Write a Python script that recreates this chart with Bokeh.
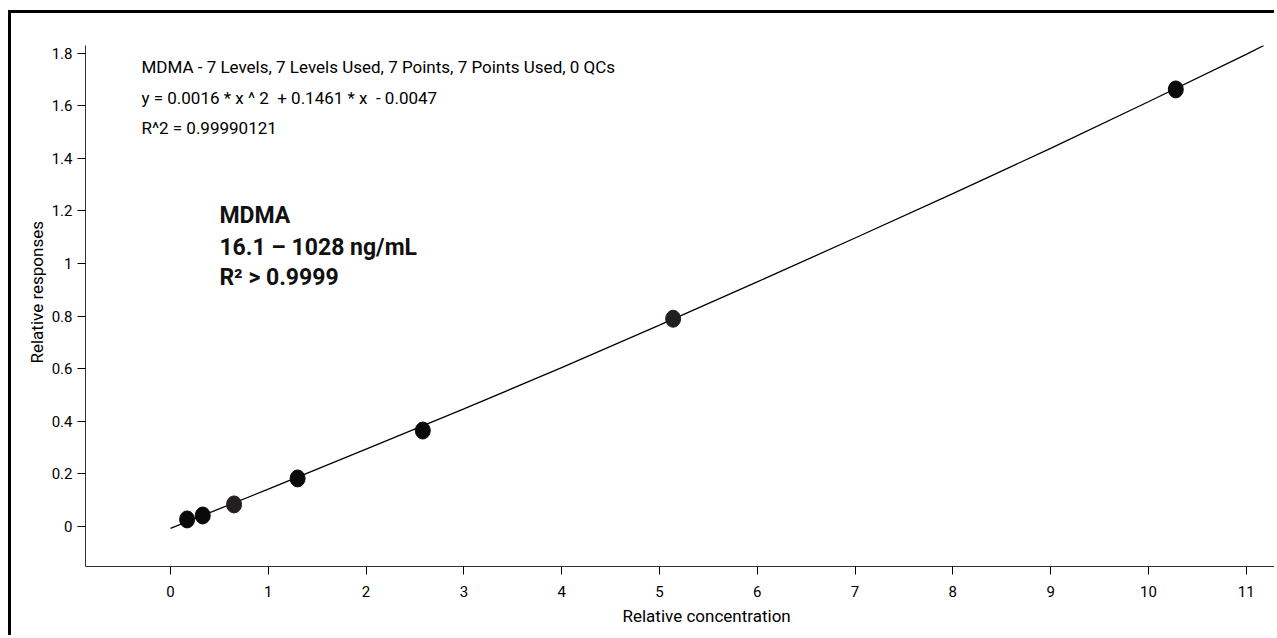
from bokeh.plotting import figure
from bokeh.models import Range1d, FixedTicker, Label, Title
from bokeh.embed import file_html
from bokeh.resources import INLINE

# calibration points (relative concentration, relative response)
conc = [0.17, 0.33, 0.65, 1.30, 2.58, 5.14, 10.28]
resp = [0.027, 0.042, 0.084, 0.183, 0.365, 0.790, 1.662]
point_colors = ["#0a0a0a", "#0a0a0a", "#231f20", "#0a0a0a", "#0a0a0a", "#231f20", "#0a0a0a"]

# fitted curve
curve_x = [0.0, 1.0, 2.0, 3.0, 4.0, 5.0, 6.0, 7.0, 8.0, 9.0, 10.0, 11.0, 11.18]
curve_y = [-0.007, 0.142, 0.294, 0.447, 0.604, 0.766, 0.930, 1.097, 1.266, 1.438, 1.615, 1.795, 1.829]

x_ticks = list(range(0, 12))
x_tick_labels = [str(t) for t in x_ticks]
y_ticks = [0, 0.2, 0.4, 0.6, 0.8, 1.0, 1.2, 1.4, 1.6, 1.8]
y_tick_labels = ["0", "0.2", "0.4", "0.6", "0.8", "1", "1.2", "1.4", "1.6", "1.8"]

info_lines = [
    "MDMA - 7 Levels, 7 Levels Used, 7 Points, 7 Points Used, 0 QCs",
    "y = 0.0016 * x ^ 2\u00a0 + 0.1461 * x\u00a0 - 0.0047",
    "R^2 = 0.99990121",
]
bold_lines = ["MDMA", "16.1 \u2013 1028 ng/mL", "R\u00b2 > 0.9999"]
x_title = "Relative concentration"
y_title = "Relative responses"

FONT = "Roboto"

p = figure(width=1266, height=625, output_backend="svg", toolbar_location=None,
           x_range=Range1d(-0.869, 11.32), y_range=Range1d(-0.152, 1.829),
           min_border_left=74, min_border_top=32, min_border_right=0, min_border_bottom=72)
p.styles = {"margin-left": "8px", "margin-top": "10px",
            "border-left": "3px solid black", "border-top": "3px solid black"}
p.outline_line_color = None
p.xgrid.visible = False
p.ygrid.visible = False
p.background_fill_color = "white"
p.border_fill_color = "white"

p.line(curve_x, curve_y, line_color="black", line_width=1.3)
p.ellipse(conc, resp, width=15, height=17, width_units="screen", height_units="screen",
          fill_color=point_colors, line_color=point_colors)

p.xaxis.ticker = FixedTicker(ticks=x_ticks)
p.xaxis.major_label_overrides = dict(zip(x_ticks, x_tick_labels))
p.yaxis.ticker = FixedTicker(ticks=y_ticks)
p.yaxis.major_label_overrides = dict(zip(y_ticks, y_tick_labels))

for ax in (p.xaxis, p.yaxis):
    ax.axis_line_color = "#333333"
    ax.major_tick_line_color = "black"
    ax.major_tick_out = 8
    ax.major_tick_in = 0
    ax.minor_tick_line_color = None
    ax.major_label_text_font = FONT
    ax.major_label_text_font_size = "15px"
    ax.major_label_text_color = "black"

p.xaxis.major_label_standoff = 11
p.yaxis.major_label_standoff = 5

# axis titles (the original is cropped, so they sit off the frame centre)
p.add_layout(Title(text=x_title, align="left", offset=537, standoff=9,
                   text_font=FONT, text_font_size="17px", text_font_style="normal",
                   text_color="black"), "below")
p.add_layout(Title(text=y_title, align="left", offset=203, standoff=4,
                   text_font=FONT, text_font_size="17px", text_font_style="normal",
                   text_color="black"), "left")

info_y = [1.749, 1.631, 1.517]
for txt, yy in zip(info_lines, info_y):
    p.add_layout(Label(x=-0.297, y=yy, text=txt, text_font=FONT, text_font_size="17px",
                       text_baseline="middle", text_color="black"))

bold_y = [1.183, 1.061, 0.947]
for txt, yy in zip(bold_lines, bold_y):
    p.add_layout(Label(x=0.50, y=yy, text=txt, text_font=FONT, text_font_size="23px",
                       text_font_style="bold", text_baseline="middle", text_color="#111111"))

open("out.html", "w").write(file_html(p, INLINE))
